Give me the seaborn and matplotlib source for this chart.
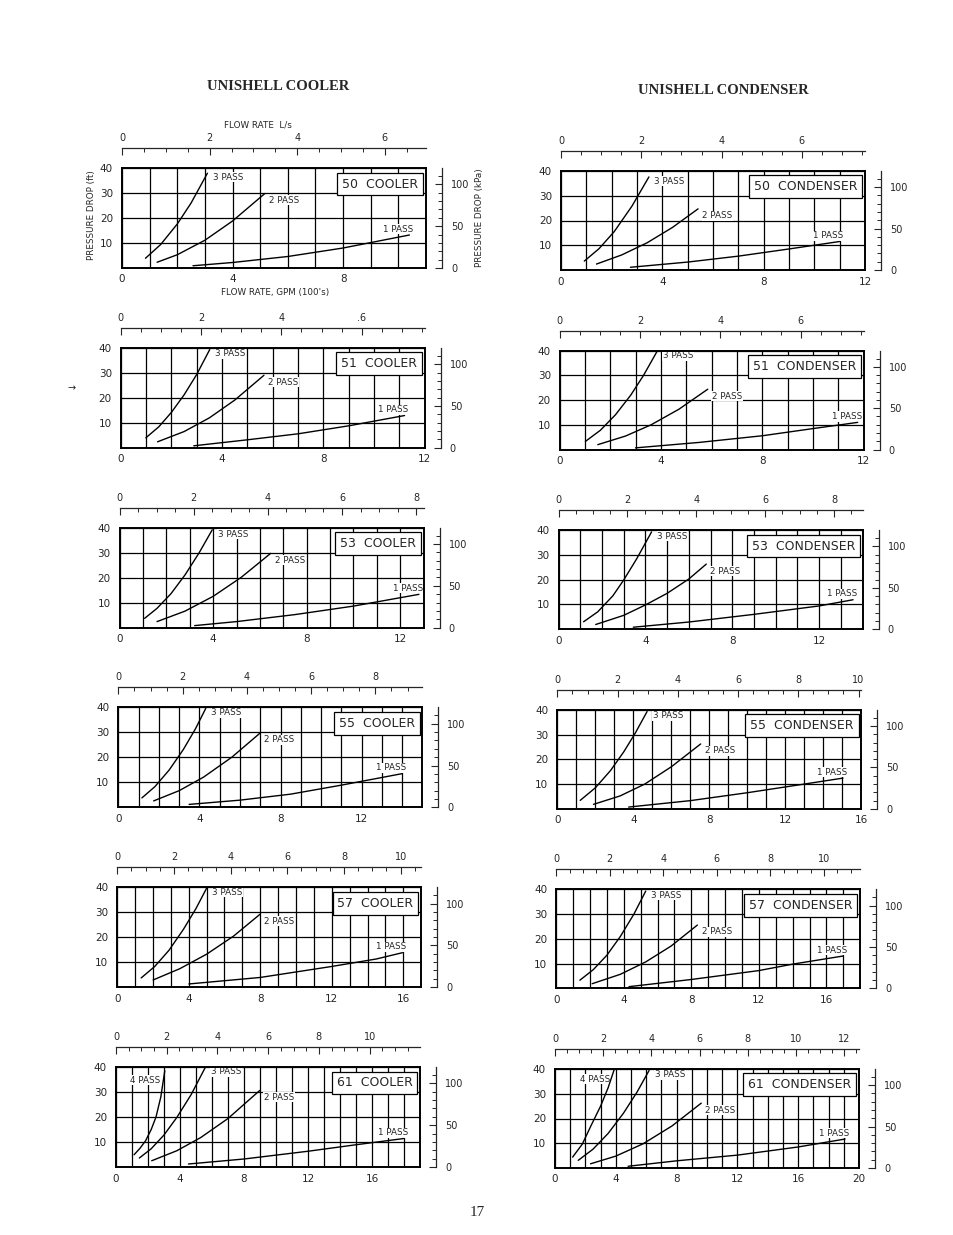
import pandas as pd
import seaborn as sns
import matplotlib.pyplot as plt
from matplotlib.ticker import MultipleLocator, FixedLocator

sns.set_style('white')
plt.rcParams['font.family'] = ['DejaVu Sans']

# flow in GPM (100's), pressure drop in ft
cooler_models = ['50', '51', '53', '55', '57', '61']
cooler_gpm_max = [11, 12, 13, 15, 17, 19]
cooler_ls_labels = [
    ['0', '2', '4', '6'],
    ['0', '2', '4', '.6'],
    ['0', '2', '4', '6', '8'],
    ['0', '2', '4', '6', '8'],
    ['0', '2', '4', '6', '8', '10'],
    ['0', '2', '4', '6', '8', '10'],
]
condenser_models = ['50', '51', '53', '55', '57', '61']
condenser_gpm_max = [12, 12, 14, 16, 18, 20]
condenser_ls_labels = [
    ['0', '2', '4', '6'],
    ['0', '2', '4', '6'],
    ['0', '2', '4', '6', '8'],
    ['0', '2', '4', '6', '8', '10'],
    ['0', '2', '4', '6', '8', '10'],
    ['0', '2', '4', '6', '8', '10', '12'],
]

cooler_50 = {
    '3 PASS': ([0.85, 1.4, 2.0, 2.5, 3.09], [3.9, 9.4, 17.6, 26.0, 37.9]),
    '2 PASS': ([1.27, 2.0, 3.0, 4.0, 5.17], [2.3, 5.3, 11.1, 18.8, 29.8]),
    '1 PASS': ([2.57, 4.0, 6.0, 8.0, 10.4], [0.9, 2.2, 4.6, 8.0, 13.2]),
}
cooler_51 = {
    '3 PASS': ([0.99, 1.5, 2.0, 2.5, 3.0, 3.51], [4.0, 8.4, 14.2, 21.2, 29.4, 39.3]),
    '2 PASS': ([1.45, 2.5, 3.5, 4.5, 5.65], [2.4, 6.5, 12.0, 19.1, 29.0]),
    '1 PASS': ([2.88, 5.0, 7.0, 9.0, 11.2], [0.8, 3.2, 5.6, 8.8, 12.9]),
}
cooler_53 = {
    '3 PASS': ([1.07, 1.6, 2.2, 2.8, 3.4, 3.96], [3.7, 7.7, 13.6, 21.1, 29.9, 39.1]),
    '2 PASS': ([1.6, 2.8, 4.0, 5.2, 6.46], [2.4, 6.6, 12.5, 20.1, 29.7]),
    '1 PASS': ([3.21, 5.0, 7.5, 10.0, 12.8], [0.8, 2.4, 5.2, 8.6, 13.3]),
}
cooler_55 = {
    '3 PASS': ([1.16, 1.8, 2.5, 3.2, 3.8, 4.31], [3.8, 8.3, 14.9, 23.1, 31.4, 39.6]),
    '2 PASS': ([1.74, 3.0, 4.2, 5.6, 7.0], [2.6, 6.7, 12.1, 20.1, 29.8]),
    '1 PASS': ([3.49, 6.0, 8.5, 11.0, 14.0], [1.2, 2.9, 5.3, 8.9, 13.5]),
}
cooler_57 = {
    '3 PASS': ([1.34, 2.1, 2.9, 3.7, 4.4, 5.0], [3.7, 8.3, 14.8, 23.1, 31.4, 39.6]),
    '2 PASS': ([2.01, 3.5, 5.0, 6.5, 7.99], [2.9, 7.4, 13.2, 20.4, 29.2]),
    '1 PASS': ([4.01, 8.0, 12.0, 14.5, 15.95], [1.3, 3.9, 8.3, 11.3, 13.8]),
}
cooler_61 = {
    '4 PASS': ([1.13, 1.5, 1.85, 2.2, 2.5, 2.8, 3.05], [4.9, 7.5, 10.5, 15.0, 20.0, 28.0, 38.5]),
    '3 PASS': ([1.46, 2.2, 3.0, 3.8, 4.7, 5.57], [3.6, 7.3, 12.8, 19.8, 29.0, 39.7]),
    '2 PASS': ([2.23, 3.8, 5.3, 7.0, 8.98], [2.5, 6.5, 11.8, 19.4, 30.6]),
    '1 PASS': ([4.53, 8.0, 12.0, 15.0, 18.0], [1.2, 3.2, 6.3, 8.9, 11.4]),
}
condenser_50 = {
    '3 PASS': ([0.92, 1.5, 2.1, 2.8, 3.47], [3.6, 8.6, 15.5, 25.8, 37.6]),
    '2 PASS': ([1.4, 2.4, 3.4, 4.4, 5.41], [2.4, 6.1, 11.0, 17.2, 24.7]),
    '1 PASS': ([2.74, 5.0, 7.0, 9.0, 10.99], [1.1, 3.2, 5.6, 8.5, 11.5]),
}
condenser_51 = {
    '3 PASS': ([1.01, 1.6, 2.2, 2.8, 3.3, 3.84], [3.3, 7.8, 14.1, 22.0, 29.9, 39.7]),
    '2 PASS': ([1.5, 2.6, 3.6, 4.7, 5.84], [2.0, 5.5, 10.0, 16.3, 24.4]),
    '1 PASS': ([2.99, 5.5, 8.0, 10.0, 11.76], [0.7, 2.9, 5.6, 8.5, 11.0]),
}
condenser_53 = {
    '3 PASS': ([1.15, 1.8, 2.5, 3.0, 3.6, 4.28], [3.0, 7.0, 13.5, 19.9, 28.5, 39.3]),
    '2 PASS': ([1.71, 3.0, 4.0, 5.0, 6.0, 6.8], [1.9, 5.6, 9.8, 14.5, 20.3, 26.3]),
    '1 PASS': ([3.44, 6.0, 9.0, 12.0, 13.56], [0.8, 2.9, 6.0, 9.4, 11.9]),
}
condenser_55 = {
    '3 PASS': ([1.2, 2.0, 2.8, 3.5, 4.1, 4.72], [3.4, 8.5, 15.5, 23.1, 30.6, 39.3]),
    '2 PASS': ([1.9, 3.3, 4.6, 6.0, 7.54], [1.8, 5.2, 10.0, 17.0, 26.2]),
    '1 PASS': ([3.75, 7.0, 10.0, 13.0, 15.03], [0.7, 3.3, 6.5, 10.0, 12.4]),
}
condenser_57 = {
    '3 PASS': ([1.4, 2.2, 3.0, 3.8, 4.6, 5.3], [3.3, 7.6, 13.4, 21.0, 30.0, 39.3]),
    '2 PASS': ([2.13, 3.8, 5.3, 6.8, 8.36], [1.9, 5.7, 10.7, 17.1, 25.6]),
    '1 PASS': ([4.31, 8.0, 12.0, 14.0, 17.0], [0.7, 3.6, 7.2, 9.8, 13.1]),
}
condenser_61 = {
    '4 PASS': ([1.16, 1.8, 2.4, 3.0, 3.5, 3.89], [4.4, 9.7, 17.5, 25.0, 32.5, 39.7]),
    '3 PASS': ([1.53, 2.5, 3.5, 4.5, 5.4, 6.19], [3.1, 7.6, 14.0, 22.1, 30.7, 39.4]),
    '2 PASS': ([2.34, 4.0, 5.8, 7.7, 9.62], [1.7, 4.8, 9.8, 17.0, 26.2]),
    '1 PASS': ([4.81, 8.0, 12.0, 16.0, 19.08], [0.7, 2.9, 5.2, 8.5, 11.7]),
}

coolers = [cooler_50, cooler_51, cooler_53, cooler_55, cooler_57, cooler_61]
condensers = [condenser_50, condenser_51, condenser_53, condenser_55, condenser_57, condenser_61]

GPM_TO_LS10 = 0.6309   # 100 gpm -> tens of L/s
FT_TO_KPA = 2.989

W, H = 954, 1235
fig = plt.figure(figsize=(W / 100, H / 100), dpi=100)
PT = 0.72  # points per pixel at 100 dpi


def px_axes(x0, top, w, h):
    return fig.add_axes([x0 / W, 1 - (top + h) / H, w / W, h / H])


def fig_text(x, y, s, **kw):
    fig.text(x / W, 1 - y / H, s, **kw)


# label offsets (points) relative to the end of each curve
label_style = {
    '4 PASS': dict(xytext=(-3, -7), ha='right', va='center'),
    '3 PASS': dict(xytext=(4, -3), ha='left', va='center'),
    '2 PASS': dict(xytext=(3, -5), ha='left', va='center'),
    '1 PASS': dict(xytext=(3, 1), ha='right', va='bottom'),
}


def draw_chart(ax, curves, gpm_max, name, ls_labels):
    for label, (xs, ys) in curves.items():
        df = pd.DataFrame({'gpm': xs, 'ft': ys})
        sns.lineplot(data=df, x='gpm', y='ft', ax=ax, color='black', lw=1.0,
                     estimator=None, sort=False, zorder=3)
        ax.annotate(label, xy=(xs[-1], ys[-1]), textcoords='offset points',
                    fontsize=6.3, zorder=2.5,
                    bbox=dict(fc='white', ec='none', pad=0.4),
                    **label_style[label])

    ax.set_xlim(0, gpm_max)
    ax.set_ylim(0, 40)
    ax.xaxis.set_major_locator(MultipleLocator(4))
    ax.xaxis.set_minor_locator(MultipleLocator(1))
    ax.set_yticks([10, 20, 30, 40])
    ax.set_axisbelow(True)
    ax.grid(which='both', axis='x', color='black', lw=0.9)
    ax.grid(which='major', axis='y', color='black', lw=0.9)
    ax.tick_params(which='both', length=0, labelsize=7.5)
    ax.tick_params(axis='x', pad=5 * PT * 1.3)
    ax.tick_params(axis='y', pad=9 * PT)
    ax.set_xlabel('')
    ax.set_ylabel('')
    for sp in ax.spines.values():
        sp.set_linewidth(1.4)
        sp.set_color('black')

    ax.text(0.975, 0.84, f'{name}', transform=ax.transAxes, ha='right', va='center',
            fontsize=9, zorder=4,
            bbox=dict(fc='white', ec='black', lw=0.9, pad=3.5))

    # flow rate in L/s, detached scale above the grid
    top = ax.twiny()
    top.set_xlim(0, gpm_max * GPM_TO_LS10)
    for side in ['left', 'right', 'bottom']:
        top.spines[side].set_visible(False)
    top.spines['top'].set_position(('outward', 20 * PT))
    top.spines['top'].set_linewidth(0.9)
    major = [float(i * 2) for i in range(len(ls_labels))]
    top.xaxis.set_major_locator(FixedLocator(major))
    top.set_xticklabels(ls_labels)
    top.xaxis.set_minor_locator(MultipleLocator(0.5))
    top.tick_params(axis='x', which='major', direction='in', length=7 * PT, width=0.8,
                    labelsize=7, pad=5 * PT)
    top.tick_params(axis='x', which='minor', direction='in', length=4 * PT, width=0.7)

    # pressure drop in kPa, detached scale at the right
    right = ax.twinx()
    right.set_ylim(0, 40 * FT_TO_KPA)
    for side in ['left', 'top', 'bottom']:
        right.spines[side].set_visible(False)
    right.spines['right'].set_position(('outward', 16 * PT))
    right.spines['right'].set_linewidth(0.9)
    right.yaxis.set_major_locator(FixedLocator([0, 50, 100]))
    right.yaxis.set_minor_locator(MultipleLocator(10))
    right.tick_params(axis='y', which='major', direction='in', length=7 * PT, width=0.8,
                      labelsize=7, pad=9 * PT)
    right.tick_params(axis='y', which='minor', direction='in', length=4 * PT, width=0.7)
    return ax


for i in range(6):
    ax = px_axes(122 - 1.2 * i, 168 + 179.8 * i, 304, 100)
    draw_chart(ax, coolers[i], cooler_gpm_max[i], f'{cooler_models[i]}  COOLER',
               cooler_ls_labels[i])
    ax = px_axes(561 - 1.2 * i, 171 + 179.6 * i, 304, 99)
    draw_chart(ax, condensers[i], condenser_gpm_max[i], f'{condenser_models[i]}  CONDENSER',
               condenser_ls_labels[i])

serif = ['Liberation Serif', 'DejaVu Serif']
fig_text(278, 86, 'UNISHELL COOLER', ha='center', va='center', fontsize=10.5,
         fontweight='bold', family=serif)
fig_text(723, 91, 'UNISHELL CONDENSER', ha='center', va='center', fontsize=10.5,
         fontweight='bold', family=serif)
fig_text(258, 125, 'FLOW RATE  L/s', ha='center', va='center', fontsize=6.3)
fig_text(275, 293, "FLOW RATE, GPM (100's)", ha='center', va='center', fontsize=6.3)
fig_text(92, 215, 'PRESSURE DROP (ft)', ha='center', va='center', fontsize=6.3, rotation=90)
fig_text(480, 218, 'PRESSURE DROP (kPa)', ha='center', va='center', fontsize=6.3, rotation=90)
fig_text(72, 388, '→', ha='center', va='center', fontsize=7)
fig_text(477, 1213, '17', ha='center', va='center', fontsize=11, family=serif)

fig.savefig('out.png', dpi=100)
